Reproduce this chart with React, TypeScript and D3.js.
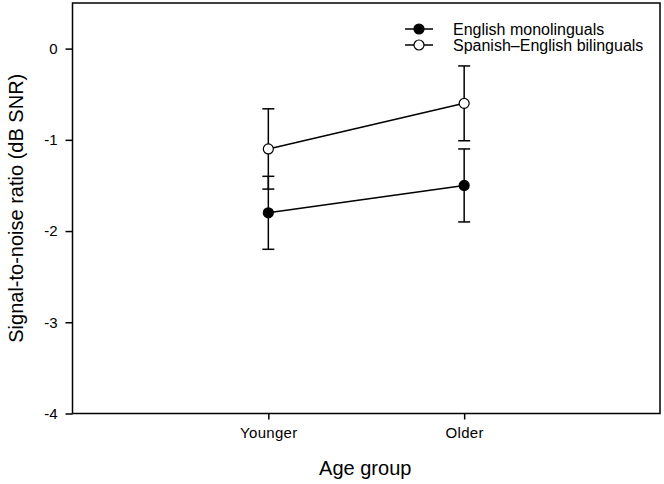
import React, { useEffect, useRef } from 'react';
import * as d3 from 'd3';

// categories and series values
const groups = ['Younger', 'Older'];
const monoMeans = [-1.8, -1.5];
const monoErr = [0.4, 0.4];
const biMeans = [-1.1, -0.6];
const biErr = [0.44, 0.41];
const yTicks = [0, -1, -2, -3, -4];

const series = [
  { name: 'English monolinguals', means: monoMeans, err: monoErr, fill: '#000' },
  { name: 'Spanish\u2013English bilinguals', means: biMeans, err: biErr, fill: '#fff' },
];

const App = () => {
  const svgRef = useRef<SVGSVGElement>(null);

  useEffect(() => {
    const width = 664;
    const height = 484;
    const left = 72.5;
    const right = 660;
    const top = 3;
    const bottom = 413.5;
    const font = 'Arial, "Liberation Sans", Helvetica, sans-serif';

    const svg = d3.select(svgRef.current)
      .attr('width', width)
      .attr('height', height)
      .style('font-family', font);
    svg.selectAll('*').remove();

    const x = d3.scaleLinear().domain([0, groups.length + 1]).range([left, right]);
    const y = d3.scaleLinear().domain([-4, 0.5]).range([bottom, top]);

    // frame
    svg.append('rect')
      .attr('x', left).attr('y', top)
      .attr('width', right - left).attr('height', bottom - top)
      .attr('fill', 'none').attr('stroke', '#000').attr('stroke-width', 1.5);

    // y axis
    svg.append('g')
      .attr('transform', `translate(${left},0)`)
      .call(d3.axisLeft(y).tickValues(yTicks).tickSize(7).tickPadding(8).tickFormat(d => String(d)))
      .call(g => g.select('.domain').remove())
      .call(g => g.selectAll('.tick line').attr('stroke-width', 1.5))
      .call(g => g.selectAll('.tick text').style('font-size', '15px').attr('fill', '#000').style('font-family', font));

    // x axis
    svg.append('g')
      .attr('transform', `translate(0,${bottom})`)
      .call(d3.axisBottom(x).tickValues(groups.map((_, i) => i + 1)).tickSize(6).tickPadding(8)
        .tickFormat((d) => groups[(d as number) - 1]))
      .call(g => g.select('.domain').remove())
      .call(g => g.selectAll('.tick line').attr('stroke-width', 1.5))
      .call(g => g.selectAll('.tick text').style('font-size', '15px').style('letter-spacing', '0.3px')
        .attr('fill', '#000').style('font-family', font));

    // axis titles
    svg.append('text')
      .attr('x', (left + right) / 2 - 1)
      .attr('y', 475)
      .attr('text-anchor', 'middle')
      .style('font-size', '20px')
      .text('Age group');

    svg.append('text')
      .attr('transform', `translate(23,${(top + bottom) / 2}) rotate(-90)`)
      .attr('text-anchor', 'middle')
      .style('font-size', '20px')
      .text('Signal-to-noise ratio (dB SNR)');

    const line = d3.line<number>()
      .x((_, i) => x(i + 1))
      .y(d => y(d));

    series.forEach(s => {
      // error bars
      s.means.forEach((m, i) => {
        const cx = x(i + 1);
        const g = svg.append('g').attr('stroke', '#000').attr('stroke-width', 1.5);
        g.append('line').attr('x1', cx).attr('x2', cx).attr('y1', y(m - s.err[i])).attr('y2', y(m + s.err[i]));
        [m - s.err[i], m + s.err[i]].forEach(v => {
          g.append('line').attr('x1', cx - 6).attr('x2', cx + 6).attr('y1', y(v)).attr('y2', y(v));
        });
      });
      svg.append('path')
        .datum(s.means)
        .attr('d', line)
        .attr('fill', 'none')
        .attr('stroke', '#000')
        .attr('stroke-width', 1.5);
      svg.selectAll(null)
        .data(s.means)
        .enter().append('circle')
        .attr('cx', (_, i) => x(i + 1))
        .attr('cy', d => y(d))
        .attr('r', 5)
        .attr('fill', s.fill)
        .attr('stroke', '#000')
        .attr('stroke-width', 1.2);
    });

    // legend
    const legend = svg.append('g').attr('transform', 'translate(405,29)');
    series.forEach((s, i) => {
      const row = legend.append('g').attr('transform', `translate(0,${i * 16})`);
      row.append('line').attr('x1', 0).attr('x2', 28).attr('stroke', '#000').attr('stroke-width', 1.5);
      row.append('circle').attr('cx', 14).attr('r', 5).attr('fill', s.fill).attr('stroke', '#000').attr('stroke-width', 1.2);
      row.append('text')
        .attr('x', 48)
        .attr('dy', '0.35em')
        .style('font-size', '16px')
        .text(s.name);
    });
  }, []);

  return (
    <svg ref={svgRef} style={{ position: 'absolute', left: 0, top: 0, background: '#fff' }} />
  );
};

export default App;
